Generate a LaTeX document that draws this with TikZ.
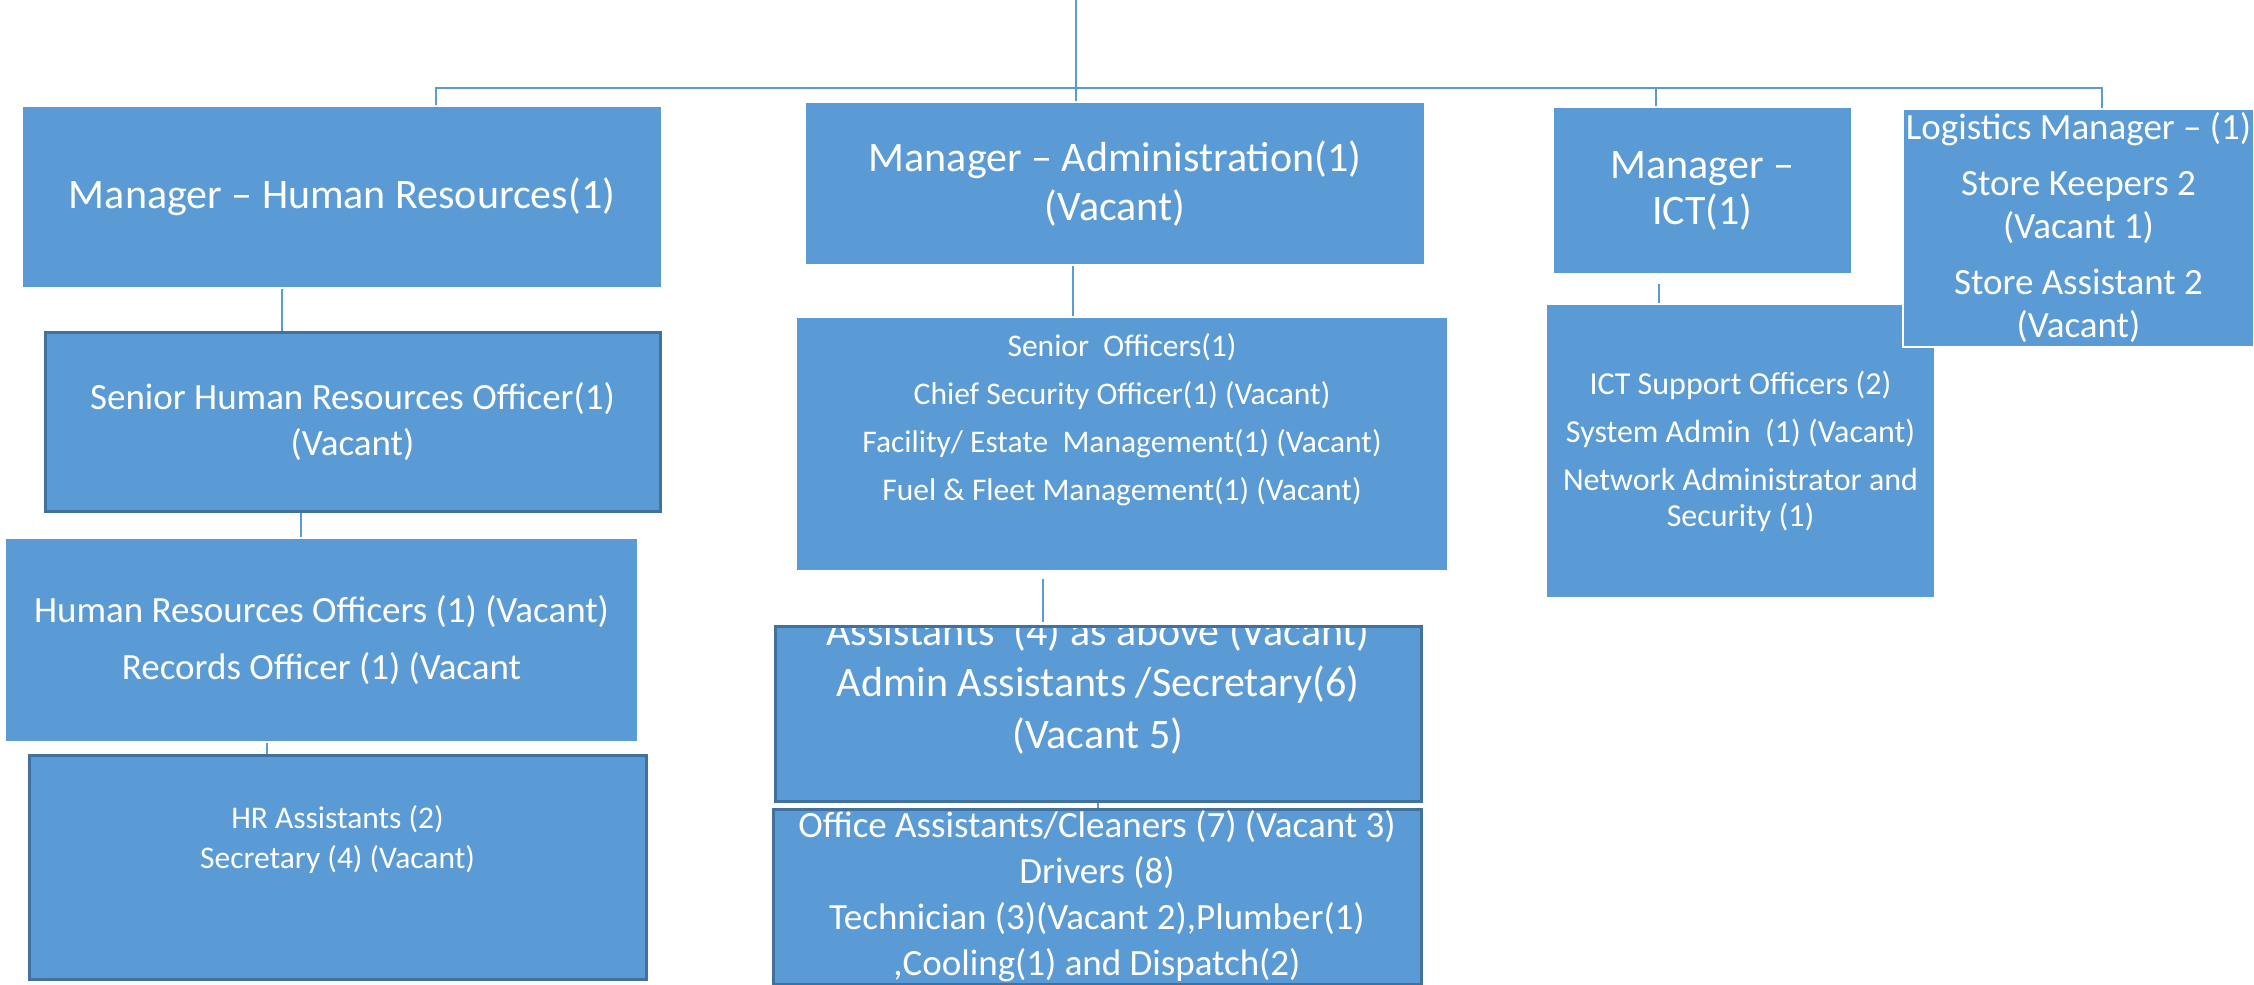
\documentclass[tikz,border=0pt]{standalone}
\usepackage{fontspec}
\setmainfont{Carlito}
\usepackage{tikz}
\usetikzlibrary{positioning}
\definecolor{boxblue}{HTML}{5B9BD5}
\definecolor{rimblue}{HTML}{41719C}

\begin{document}
\begin{tikzpicture}[x=1pt,y=-1pt,
    unit/.style={rectangle, fill=boxblue, draw=white, line width=1.5pt, inner sep=0pt, text=white, align=center},
    post/.style={unit, draw=rimblue, line width=3pt},
    link/.style={draw=boxblue, line width=1.5pt},
    words/.style={text=white, align=center, inner sep=0pt}]
  \useasboundingbox (0,0) rectangle (2254,985);
  % Draw the managers
  \node[unit, minimum width=640, minimum height=182, font=\fontsize{42}{49}\selectfont] (hrm) at (342,197)
      {Manager – Human Resources(1)};
  \node[unit, minimum width=620, minimum height=163, font=\fontsize{42}{49}\selectfont] (adm) at (1115,183.5)
      {Manager – Administration(1)\\(Vacant)};
  \node[unit, minimum width=299, minimum height=167, font=\fontsize{42}{46}\selectfont] (ict) at (1702.5,190.5)
      {Manager –\\ICT(1)};
  % Draw the HR column
  \node[post, minimum width=615, minimum height=179, font=\fontsize{37}{46}\selectfont] (shr) at (352.5,421.5)
      {Senior Human Resources Officer(1)\\(Vacant)};
  \node[unit, minimum width=633, minimum height=204, font=\fontsize{37}{45}\selectfont] (hro) at (321.5,640)
      {Human Resources Officers (1) (Vacant)\\[12pt]Records Officer (1) (Vacant};
  \node[post, minimum width=617, minimum height=224] (hra) at (337.5,867) {};
  \node[words, font=\fontsize{31.5}{40}\selectfont] (hra-t) at ([yshift=27]hra.center)
      {HR Assistants (2)\\Secretary (4) (Vacant)};
  % Draw the administration column
  \node[unit, minimum width=652, minimum height=254] (so) at (1122,444) {};
  \node[words, font=\fontsize{31.5}{48}\selectfont] (so-t) at ([yshift=24.5]so.center)
      {Senior\ \ Officers(1)\\Chief Security Officer(1) (Vacant)\\Facility/ Estate\ \ Management(1) (Vacant)\\Fuel \& Fleet Management(1) (Vacant)};
  \node[post, minimum width=646, minimum height=175] (asst) at (1098,713.5) {};
  \node[words, font=\fontsize{42}{51.5}\selectfont] (asst-t) at ([yshift=29]asst.center)
      {Assistants\ \ (4) as above (Vacant)\\Admin Assistants /Secretary(6)\\(Vacant 5)};
  % top edge runs over the clipped first line
  \draw[rimblue, line width=3pt] ([yshift=-1.5]asst.north west) -- ([yshift=-1.5]asst.north east);
  \node[post, minimum width=648, minimum height=175, font=\fontsize{37}{46}\selectfont] (off) at (1097,896.5)
      {Office Assistants/Cleaners (7) (Vacant 3)\\Drivers (8)\\Technician (3)(Vacant 2),Plumber(1)\\,Cooling(1) and Dispatch(2)};
  % Draw the ICT column and logistics
  \node[unit, minimum width=389, minimum height=294, font=\fontsize{32}{36}\selectfont] (ictso) at (1740.5,451)
      {ICT Support Officers (2)\\[12pt]System Admin\ \ (1) (Vacant)\\[12pt]Network Administrator and\\Security (1)};
  \node[unit, minimum width=351, minimum height=238, font=\fontsize{37}{43}\selectfont] (log) at (2078.5,228)
      {Logistics Manager – (1)\\[13pt]Store Keepers 2\\(Vacant 1)\\[13pt]Store Assistant 2\\(Vacant)};
  % Draw the connectors
  \coordinate (top) at (1076,0);
  \coordinate (bus) at (1076,88);
  \draw[link] (top) -- ([xshift=-39]adm.north);
  \draw[link] ([xshift=94]hrm.north) |- (bus) -| ([xshift=23.5]log.north);
  \draw[link] ([xshift=-46.5]ict.north) |- (bus);
  \draw[link] ([xshift=-60]hrm.south) -- ([xshift=-70.5]shr.north);
  \draw[link] ([xshift=-51.5]shr.south) -- ([xshift=-20.5]hro.north);
  \draw[link] ([xshift=-54.5]hro.south) -- ([xshift=-70.5]hra.north);
  \draw[link] ([xshift=-42]adm.south) -- ([xshift=-49]so.north);
  \draw[link] ([xshift=-79,yshift=-7]so.south) -- ([xshift=-55,yshift=3]asst.north);
  \draw[link] (asst.south) -- ([xshift=1]off.north);
  \draw[link] ([xshift=-43.5,yshift=-9]ict.south) -- ([xshift=-81.5]ictso.north);
\end{tikzpicture}
\end{document}
